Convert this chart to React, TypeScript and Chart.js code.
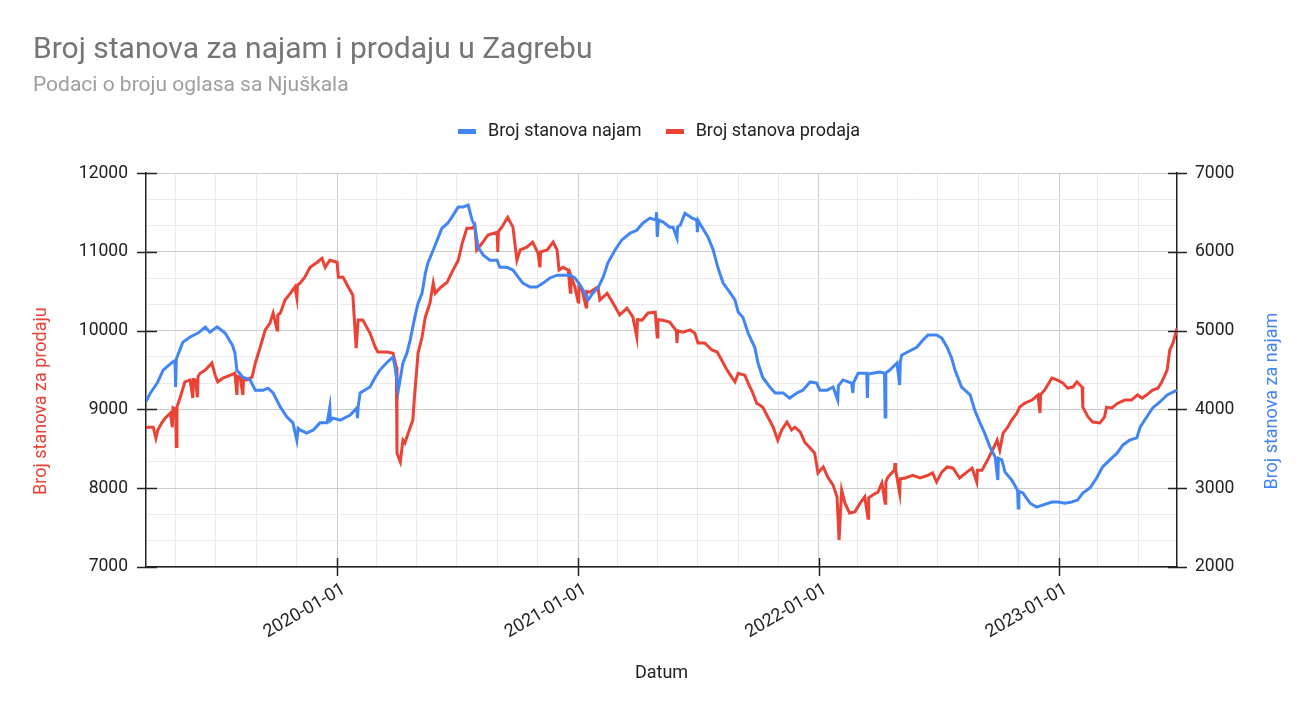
import { useEffect, useRef } from 'react';
import { Chart, registerables, layouts } from 'chart.js';

Chart.register(...registerables);

// Broj stanova za najam (desna os) - očitano s grafa
const najamDates = [
  '2019-03-17', '2019-03-23', '2019-04-03', '2019-04-12', '2019-04-26', '2019-04-30', '2019-05-01', '2019-05-02',
  '2019-05-12', '2019-05-23', '2019-06-04', '2019-06-15', '2019-06-22', '2019-07-03', '2019-07-15', '2019-07-26',
  '2019-07-30', '2019-08-02', '2019-08-11', '2019-08-22', '2019-08-30', '2019-09-11', '2019-09-18', '2019-09-26',
  '2019-10-07', '2019-10-17', '2019-10-26', '2019-11-01', '2019-11-03', '2019-11-06', '2019-11-16', '2019-11-26',
  '2019-12-06', '2019-12-17', '2019-12-21', '2019-12-22', '2019-12-26', '2020-01-06', '2020-01-21', '2020-01-31',
  '2020-02-01', '2020-02-02', '2020-02-05', '2020-02-20', '2020-02-28', '2020-03-06', '2020-03-17', '2020-03-26',
  '2020-03-29', '2020-04-03', '2020-04-10', '2020-04-16', '2020-04-21', '2020-04-28', '2020-05-03', '2020-05-09',
  '2020-05-14', '2020-05-18', '2020-05-26', '2020-06-01', '2020-06-08', '2020-06-17', '2020-06-25', '2020-07-03',
  '2020-07-10', '2020-07-18', '2020-07-24', '2020-07-28', '2020-08-02', '2020-08-10', '2020-08-20', '2020-08-31',
  '2020-09-04', '2020-09-15', '2020-09-24', '2020-10-02', '2020-10-09', '2020-10-20', '2020-10-30', '2020-11-09',
  '2020-11-19', '2020-11-30', '2020-12-09', '2020-12-20', '2020-12-27', '2021-01-04', '2021-01-11', '2021-01-16',
  '2021-01-23', '2021-01-31', '2021-02-08', '2021-02-15', '2021-02-26', '2021-03-08', '2021-03-21', '2021-03-31',
  '2021-04-09', '2021-04-20', '2021-04-29', '2021-04-30', '2021-05-01', '2021-05-03', '2021-05-10', '2021-05-20',
  '2021-05-25', '2021-05-31', '2021-06-01', '2021-06-05', '2021-06-12', '2021-06-23', '2021-06-30', '2021-07-01',
  '2021-07-02', '2021-07-09', '2021-07-17', '2021-07-25', '2021-08-01', '2021-08-09', '2021-08-19', '2021-08-27',
  '2021-09-01', '2021-09-08', '2021-09-16', '2021-09-26', '2021-10-01', '2021-10-08', '2021-10-19', '2021-10-27',
  '2021-11-08', '2021-11-18', '2021-11-29', '2021-12-08', '2021-12-19', '2021-12-29', '2022-01-03', '2022-01-14',
  '2022-01-23', '2022-01-30', '2022-01-31', '2022-02-07', '2022-02-20', '2022-02-22', '2022-02-23', '2022-03-02',
  '2022-03-15', '2022-03-16', '2022-03-17', '2022-03-24', '2022-04-04', '2022-04-11', '2022-04-12', '2022-04-13',
  '2022-04-19', '2022-04-30', '2022-05-04', '2022-05-05', '2022-05-07', '2022-05-16', '2022-05-30', '2022-06-08',
  '2022-06-16', '2022-06-29', '2022-07-07', '2022-07-15', '2022-07-22', '2022-07-27', '2022-08-06', '2022-08-19',
  '2022-08-26', '2022-09-03', '2022-09-10', '2022-09-18', '2022-09-26', '2022-09-30', '2022-10-01', '2022-10-06',
  '2022-10-11', '2022-10-21', '2022-10-30', '2022-10-31', '2022-11-01', '2022-11-07', '2022-11-18', '2022-11-28',
  '2022-12-07', '2022-12-21', '2022-12-30', '2023-01-10', '2023-01-20', '2023-01-29', '2023-02-06', '2023-02-17',
  '2023-02-27', '2023-03-08', '2023-03-19', '2023-03-30', '2023-04-08', '2023-04-18', '2023-04-29', '2023-05-04',
  '2023-05-14', '2023-05-23', '2023-06-03', '2023-06-14', '2023-06-23', '2023-06-29',
];
const najamValues = [
  4100, 4200, 4335, 4500, 4600, 4620, 4285, 4640,
  4855, 4920, 4970, 5045, 4980, 5050, 4970, 4820,
  4715, 4500, 4410, 4375, 4245, 4245, 4270, 4210,
  4030, 3905, 3830, 3610, 3760, 3740, 3700, 3740,
  3830, 3830, 4030, 3860, 3890, 3865, 3930, 4020,
  3890, 4030, 4210, 4285, 4410, 4500, 4600, 4665,
  4540, 4245, 4590, 4715, 4880, 5170, 5350, 5475,
  5730, 5860, 6025, 6150, 6300, 6365, 6465, 6570,
  6570, 6595, 6405, 6340, 6060, 5960, 5895, 5895,
  5805, 5805, 5770, 5680, 5605, 5555, 5555, 5605,
  5670, 5705, 5705, 5705, 5670, 5580, 5475, 5390,
  5475, 5540, 5680, 5860, 6025, 6150, 6240, 6275,
  6365, 6430, 6405, 6505, 6190, 6405, 6380, 6315,
  6315, 6175, 6320, 6340, 6490, 6430, 6405, 6250,
  6400, 6300, 6190, 6025, 5805, 5605, 5490, 5390,
  5235, 5170, 4970, 4790, 4590, 4410, 4285, 4210,
  4210, 4145, 4210, 4245, 4350, 4335, 4245, 4245,
  4285, 4120, 4300, 4375, 4335, 4210, 4340, 4460,
  4460, 4145, 4450, 4460, 4475, 4460, 3905, 4465,
  4500, 4590, 4310, 4600, 4690, 4730, 4790, 4880,
  4945, 4945, 4905, 4790, 4650, 4500, 4285, 4185,
  3990, 3830, 3700, 3525, 3395, 3105, 3380, 3360,
  3205, 3105, 2975, 2750, 2960, 2940, 2810, 2760,
  2785, 2825, 2825, 2810, 2825, 2850, 2940, 3005,
  3130, 3270, 3360, 3445, 3550, 3610, 3640, 3775,
  3905, 4020, 4095, 4185, 4220, 4245,
];

// Broj stanova za prodaju (lijeva os)
const prodajaDates = [
  '2019-03-17', '2019-03-20', '2019-03-28', '2019-04-01', '2019-04-04', '2019-04-10', '2019-04-15', '2019-04-23',
  '2019-04-26', '2019-04-27', '2019-05-01', '2019-05-02', '2019-05-03', '2019-05-08', '2019-05-15', '2019-05-23',
  '2019-05-27', '2019-05-28', '2019-05-31', '2019-06-03', '2019-06-04', '2019-06-07', '2019-06-15', '2019-06-25',
  '2019-06-30', '2019-07-04', '2019-07-12', '2019-07-23', '2019-07-30', '2019-08-02', '2019-08-03', '2019-08-07',
  '2019-08-11', '2019-08-12', '2019-08-17', '2019-08-25', '2019-08-30', '2019-09-06', '2019-09-14', '2019-09-21',
  '2019-09-26', '2019-10-02', '2019-10-03', '2019-10-07', '2019-10-14', '2019-10-22', '2019-10-29', '2019-11-01',
  '2019-11-02', '2019-11-06', '2019-11-13', '2019-11-21', '2019-12-02', '2019-12-09', '2019-12-14', '2019-12-21',
  '2020-01-01', '2020-01-03', '2020-01-10', '2020-01-18', '2020-01-25', '2020-01-30', '2020-02-02', '2020-02-09',
  '2020-02-20', '2020-02-28', '2020-03-03', '2020-03-17', '2020-03-26', '2020-03-31', '2020-04-01', '2020-04-06',
  '2020-04-10', '2020-04-13', '2020-04-18', '2020-04-25', '2020-04-28', '2020-05-03', '2020-05-09', '2020-05-14',
  '2020-05-21', '2020-05-26', '2020-05-29', '2020-06-05', '2020-06-16', '2020-06-25', '2020-07-03', '2020-07-09',
  '2020-07-16', '2020-07-24', '2020-07-28', '2020-07-31', '2020-08-08', '2020-08-17', '2020-08-31', '2020-09-01',
  '2020-09-02', '2020-09-07', '2020-09-16', '2020-09-24', '2020-09-30', '2020-10-05', '2020-10-15', '2020-10-24',
  '2020-11-01', '2020-11-04', '2020-11-05', '2020-11-15', '2020-11-24', '2020-11-30', '2020-12-03', '2020-12-09',
  '2020-12-17', '2020-12-20', '2020-12-21', '2020-12-27', '2021-01-01', '2021-01-02', '2021-01-07', '2021-01-13',
  '2021-01-14', '2021-01-19', '2021-01-23', '2021-01-31', '2021-02-03', '2021-02-14', '2021-02-23', '2021-03-05',
  '2021-03-16', '2021-03-25', '2021-03-31', '2021-04-01', '2021-04-08', '2021-04-17', '2021-04-28', '2021-05-01',
  '2021-05-02', '2021-05-08', '2021-05-20', '2021-05-30', '2021-05-31', '2021-06-01', '2021-06-09', '2021-06-20',
  '2021-06-27', '2021-07-02', '2021-07-12', '2021-07-23', '2021-07-31', '2021-08-07', '2021-08-15', '2021-08-22',
  '2021-08-27', '2021-09-01', '2021-09-11', '2021-09-16', '2021-09-23', '2021-09-29', '2021-10-08', '2021-10-16',
  '2021-10-24', '2021-10-31', '2021-11-06', '2021-11-14', '2021-11-21', '2021-11-26', '2021-12-04', '2021-12-11',
  '2021-12-19', '2021-12-26', '2021-12-31', '2022-01-08', '2022-01-15', '2022-01-23', '2022-01-29', '2022-02-01',
  '2022-02-05', '2022-02-10', '2022-02-17', '2022-02-25', '2022-03-05', '2022-03-12', '2022-03-17', '2022-03-18',
  '2022-03-24', '2022-04-01', '2022-04-07', '2022-04-12', '2022-04-13', '2022-04-16', '2022-04-26', '2022-04-27',
  '2022-04-28', '2022-05-04', '2022-05-05', '2022-05-12', '2022-05-24', '2022-06-04', '2022-06-16', '2022-06-23',
  '2022-06-29', '2022-07-07', '2022-07-15', '2022-07-24', '2022-08-03', '2022-08-14', '2022-08-22', '2022-08-29',
  '2022-08-30', '2022-09-06', '2022-09-13', '2022-09-22', '2022-09-29', '2022-10-03', '2022-10-08', '2022-10-15',
  '2022-10-21', '2022-10-29', '2022-11-02', '2022-11-10', '2022-11-21', '2022-11-30', '2022-12-03', '2022-12-04',
  '2022-12-10', '2022-12-21', '2022-12-29', '2023-01-07', '2023-01-14', '2023-01-22', '2023-01-28', '2023-02-05',
  '2023-02-06', '2023-02-14', '2023-02-21', '2023-03-04', '2023-03-11', '2023-03-14', '2023-03-22', '2023-03-31',
  '2023-04-11', '2023-04-21', '2023-04-30', '2023-05-07', '2023-05-14', '2023-05-23', '2023-05-31', '2023-06-06',
  '2023-06-14', '2023-06-18', '2023-06-23', '2023-06-29',
];
const prodajaValues = [
  8765, 8775, 8775, 8635, 8740, 8830, 8890, 8955,
  8775, 9020, 9000, 8530, 9030, 9155, 9350, 9375,
  9145, 9380, 9375, 9155, 9420, 9460, 9500, 9590,
  9435, 9350, 9400, 9435, 9460, 9185, 9420, 9410,
  9185, 9380, 9375, 9410, 9590, 9780, 10010, 10095,
  10225, 10010, 10200, 10225, 10390, 10475, 10555, 10415,
  10580, 10605, 10680, 10805, 10870, 10920, 10805, 10895,
  10870, 10680, 10680, 10555, 10450, 9780, 10135, 10135,
  9970, 9790, 9730, 9730, 9715, 9540, 8445, 8335,
  8610, 8575, 8700, 8865, 9210, 9715, 9920, 10175,
  10350, 10605, 10475, 10540, 10615, 10770, 10895, 11110,
  11300, 11300, 11340, 11025, 11110, 11215, 11250, 11000,
  11260, 11315, 11440, 11315, 10895, 11025, 11060, 11125,
  10985, 10805, 11000, 11025, 11125, 11025, 10770, 10805,
  10770, 10490, 10700, 10555, 10365, 10550, 10515, 10300,
  10500, 10490, 10515, 10555, 10390, 10475, 10350, 10200,
  10285, 10175, 9920, 10140, 10135, 10225, 10235, 9920,
  10140, 10135, 10110, 10000, 9845, 10000, 9980, 10010,
  9970, 9845, 9845, 9755, 9730, 9625, 9500, 9410,
  9350, 9460, 9435, 9335, 9210, 9080, 9030, 8905,
  8775, 8610, 8740, 8840, 8740, 8775, 8715, 8585,
  8510, 8445, 8195, 8270, 8140, 8040, 7890, 7345,
  7975, 7810, 7685, 7700, 7810, 7890, 7620, 7880,
  7915, 7950, 8065, 7810, 8080, 8140, 8230, 8320,
  8230, 7940, 8120, 8130, 8165, 8130, 8165, 8195,
  8080, 8205, 8270, 8255, 8130, 8205, 8255, 8080,
  8230, 8230, 8335, 8485, 8610, 8485, 8700, 8775,
  8865, 8955, 9030, 9080, 9120, 9185, 8955, 9190,
  9245, 9400, 9375, 9335, 9270, 9285, 9350, 9285,
  9030, 8905, 8840, 8830, 8905, 9030, 9020, 9080,
  9120, 9120, 9185, 9145, 9185, 9245, 9270, 9350,
  9500, 9755, 9845, 10030,
];

const yearLabels = ['2020-01-01', '2021-01-01', '2022-01-01', '2023-01-01'];
const prodajaTicks = [7000, 8000, 9000, 10000, 11000, 12000];
const najamTicks = [2000, 3000, 4000, 5000, 6000, 7000];

const BLUE = '#4285f4';
const RED = '#ea4335';
const FONT = 'Roboto';

const toDay = (s: string) => {
  const [y, m, d] = s.split('-').map(Number);
  return Date.UTC(y, m - 1, d) / 864e5;
};
const yearDays = yearLabels.map(toDay);
const isYear = (v: number) => yearDays.some((d) => Math.abs(d - v) < 0.01);

// minor vertical gridlines: every second month
const gridDays: number[] = [];
for (let y = 2019; y <= 2023; y++) {
  for (let m = 1; m <= 11; m += 2) gridDays.push(Date.UTC(y, m - 1, 1) / 864e5);
}

// horizontal gridlines: majors plus two minor lines between them
const withThirds = (ticks: number[]) => {
  const out: number[] = [];
  ticks.forEach((v, i) => {
    out.push(v);
    if (i < ticks.length - 1) {
      const step = (ticks[i + 1] - v) / 3;
      out.push(v + step, v + 2 * step);
    }
  });
  return out;
};
const isMajor = (v: number) => Math.abs(v / 1000 - Math.round(v / 1000)) < 1e-6;

// flat legend marker like the Sheets one
const marker = (color: string) => {
  const c = document.createElement('canvas');
  c.width = 18;
  c.height = 5;
  const g = c.getContext('2d');
  if (g) {
    g.fillStyle = color;
    g.fillRect(0, 0, 18, 5);
  }
  return c;
};

// empty layout box that keeps a gap between the legend and the plot
const spacer = {
  id: 'spacer',
  beforeInit(chart: any) {
    const box: any = {
      position: 'top',
      weight: 500,
      fullSize: true,
      options: {},
      top: 0, left: 0, right: 0, bottom: 0, width: 0, height: 0,
      isHorizontal: () => true,
      update(maxWidth: number) {
        box.width = maxWidth;
        box.height = 23;
      },
      draw() {},
    };
    layouts.addBox(chart, box);
  },
};

// tick marks crossing the axes and the two axis titles
const axisDecor = {
  id: 'axisDecor',
  afterDraw(chart: any) {
    const { ctx, chartArea: a, scales } = chart;
    ctx.save();
    ctx.strokeStyle = '#222';
    ctx.lineWidth = 1.5;
    ctx.beginPath();
    prodajaTicks.forEach((v) => {
      const y = Math.round(scales.y.getPixelForValue(v)) + 0.5;
      ctx.moveTo(a.left - 9, y);
      ctx.lineTo(a.left + 11, y);
    });
    najamTicks.forEach((v) => {
      const y = Math.round(scales.y1.getPixelForValue(v)) + 0.5;
      ctx.moveTo(a.right - 9, y);
      ctx.lineTo(a.right + 10, y);
    });
    yearDays.forEach((d) => {
      const x = Math.round(scales.x.getPixelForValue(d)) + 0.5;
      ctx.moveTo(x, a.bottom - 9);
      ctx.lineTo(x, a.bottom + 9);
    });
    ctx.stroke();

    ctx.font = `18px ${FONT}`;
    ctx.textAlign = 'center';
    ctx.textBaseline = 'middle';
    const cy = (a.top + a.bottom) / 2 + 31;
    ctx.save();
    ctx.translate(a.left - 105, cy);
    ctx.rotate(-Math.PI / 2);
    ctx.fillStyle = RED;
    ctx.fillText('Broj stanova za prodaju', 0, 0);
    ctx.restore();
    ctx.save();
    ctx.translate(a.right + 95, cy);
    ctx.rotate(-Math.PI / 2);
    ctx.fillStyle = BLUE;
    ctx.fillText('Broj stanova za najam', 0, 0);
    ctx.restore();
    ctx.restore();
  },
};

const App = () => {
  const canvasRef = useRef<HTMLCanvasElement | null>(null);
  const chartRef = useRef<Chart | null>(null);

  useEffect(() => {
    if (!canvasRef.current) return;
    if (chartRef.current) chartRef.current.destroy();

    const axisFont = { family: FONT, size: 18 };
    const yTickFont = { family: FONT, size: 17.5 };

    chartRef.current = new Chart(canvasRef.current, {
      type: 'line',
      data: {
        datasets: [
          {
            label: 'Broj stanova najam',
            data: najamDates.map((d, i) => ({ x: toDay(d), y: najamValues[i] })),
            yAxisID: 'y1',
            borderColor: BLUE,
            backgroundColor: BLUE,
            borderWidth: 3,
            pointRadius: 0,
            tension: 0,
          },
          {
            label: 'Broj stanova prodaja',
            data: prodajaDates.map((d, i) => ({ x: toDay(d), y: prodajaValues[i] })),
            yAxisID: 'y',
            borderColor: RED,
            backgroundColor: RED,
            borderWidth: 3,
            pointRadius: 0,
            tension: 0,
          },
        ],
      },
      options: {
        animation: false,
        responsive: true,
        maintainAspectRatio: false,
        layout: { padding: { left: 33, right: 33, top: 0, bottom: 0 } },
        plugins: {
          title: {
            display: true,
            text: 'Broj stanova za najam i prodaju u Zagrebu',
            align: 'start',
            color: '#757575',
            font: { family: FONT, size: 30, weight: 'normal' },
            padding: { top: 32, bottom: 5 },
          },
          subtitle: {
            display: true,
            text: 'Podaci o broju oglasa sa Njuškala',
            align: 'start',
            color: '#9e9e9e',
            font: { family: FONT, size: 21 },
            padding: { top: 0, bottom: 3 },
          },
          legend: {
            position: 'top',
            labels: {
              color: '#222',
              font: axisFont,
              usePointStyle: true,
              pointStyleWidth: 24,
              padding: 21,
              generateLabels: (chart: any) =>
                Chart.defaults.plugins.legend.labels
                  .generateLabels(chart)
                  .map((l: any) => ({ ...l, lineWidth: 0, pointStyle: marker(l.strokeStyle) })),
            },
          },
          tooltip: { enabled: false },
        },
        scales: {
          x: {
            type: 'linear',
            min: toDay(najamDates[0]),
            max: toDay(najamDates[najamDates.length - 1]),
            afterBuildTicks: (scale: any) => {
              scale.ticks = gridDays
                .filter((d) => d >= scale.min && d <= scale.max)
                .map((d) => ({ value: d }));
            },
            afterFit: (scale: any) => {
              scale.height = 151;
            },
            ticks: {
              autoSkip: false,
              minRotation: 30,
              maxRotation: 30,
              padding: 3,
              labelOffset: 7,
              color: '#222',
              font: axisFont,
              callback: (v: any) => {
                const i = yearDays.findIndex((d) => Math.abs(d - v) < 0.01);
                return i >= 0 ? yearLabels[i] : '';
              },
            },
            grid: {
              color: (c: any) => (c.tick && isYear(c.tick.value) ? '#cccccc' : '#ebebeb'),
              tickLength: 9,
              tickColor: 'transparent',
            },
            border: { display: true, color: '#222', width: 1.5 },
            title: {
              display: true,
              text: 'Datum',
              color: '#222',
              font: axisFont,
              padding: { top: 0, bottom: 34 },
            },
          },
          y: {
            position: 'left',
            min: 7000,
            max: 12000,
            afterBuildTicks: (scale: any) => {
              scale.ticks = withThirds(prodajaTicks).map((v) => ({ value: v }));
            },
            afterFit: (scale: any) => {
              scale.width = 113;
            },
            ticks: {
              padding: 9,
              color: '#222',
              font: yTickFont,
              callback: (v: any) => (isMajor(v) ? String(Math.round(v)) : ''),
            },
            grid: {
              color: (c: any) => (c.tick && isMajor(c.tick.value) ? '#cccccc' : '#ebebeb'),
              tickLength: 9,
              tickColor: 'transparent',
            },
            border: { display: true, color: '#222', width: 1.5 },
          },
          y1: {
            position: 'right',
            min: 2000,
            max: 7000,
            afterBuildTicks: (scale: any) => {
              scale.ticks = withThirds(najamTicks).map((v) => ({ value: v }));
            },
            afterFit: (scale: any) => {
              scale.width = 105;
            },
            ticks: {
              padding: 9,
              color: '#222',
              font: yTickFont,
              callback: (v: any) => (isMajor(v) ? String(Math.round(v)) : ''),
            },
            grid: { drawOnChartArea: false, tickLength: 9, tickColor: 'transparent' },
            border: { display: true, color: '#222', width: 1.5 },
          },
        },
      },
      plugins: [spacer, axisDecor],
    } as any);

    return () => {
      if (chartRef.current) {
        chartRef.current.destroy();
        chartRef.current = null;
      }
    };
  }, []);

  return (
    <div style={{ position: 'fixed', left: 0, top: 0, width: '100vw', height: '100vh', background: '#fff' }}>
      <canvas ref={canvasRef}></canvas>
    </div>
  );
};

export default App;
